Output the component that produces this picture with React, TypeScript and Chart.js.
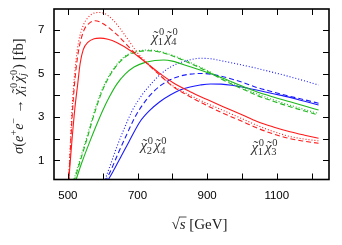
import React, { useEffect, useRef } from "react";
import { Chart, registerables } from "chart.js";

Chart.register(...registerables);

// ---- data: √s [GeV] and σ [fb] for each curve ----
// χ̃1χ̃3 (red)
const n13SolidS = [502, 506, 512, 520, 528, 535, 544, 558, 575, 592, 615, 640, 680, 720, 760, 800, 851, 900, 946, 1000, 1042, 1090, 1138, 1180, 1220];
const n13SolidSigma = [0, 0.8, 2.0, 3.4, 4.5, 5.45, 6.1, 6.45, 6.6, 6.63, 6.58, 6.43, 6.05, 5.56, 5.05, 4.6, 4.16, 3.8, 3.47, 3.1, 2.8, 2.54, 2.32, 2.16, 2.02];
const n13DashedS = [502, 506, 512, 520, 530, 545, 560, 578, 600, 640, 693, 721, 760, 800, 851, 900, 946, 1000, 1042, 1090, 1138, 1180, 1220];
const n13DashedSigma = [0, 1.2, 3.0, 4.7, 6.0, 6.95, 7.3, 7.43, 7.3, 6.8, 5.93, 5.55, 4.98, 4.42, 3.93, 3.52, 3.17, 2.8, 2.5, 2.22, 2.0, 1.88, 1.79];
const n13DottedS = [502, 506, 512, 520, 530, 545, 560, 575, 592, 610, 630, 660, 700, 730, 760, 800, 851, 900, 946, 1000, 1042, 1090, 1138, 1180, 1220];
const n13DottedSigma = [0, 1.4, 3.4, 5.1, 6.4, 7.25, 7.62, 7.78, 7.81, 7.72, 7.45, 6.85, 5.95, 5.45, 5.0, 4.45, 4.0, 3.62, 3.3, 2.92, 2.62, 2.33, 2.1, 1.98, 1.9];

// χ̃1χ̃4 (green)
const n14SolidS = [521, 540, 560, 580, 600, 620, 640, 665, 690, 720, 750, 775, 800, 851, 900, 946, 1000, 1042, 1090, 1138, 1180, 1220];
const n14SolidSigma = [0, 0.9, 1.75, 2.55, 3.3, 3.95, 4.5, 4.98, 5.3, 5.5, 5.6, 5.62, 5.57, 5.31, 5.05, 4.78, 4.42, 4.16, 3.92, 3.7, 3.5, 3.32];
const n14DashedS = [517, 535, 555, 575, 595, 610, 630, 650, 675, 700, 730, 760, 793, 851, 900, 946, 1000, 1042, 1090, 1138, 1180, 1220];
const n14DashedSigma = [0, 0.95, 2.0, 3.1, 4.05, 4.6, 5.15, 5.55, 5.87, 6.0, 6.05, 6.0, 5.85, 5.47, 5.1, 4.7, 4.3, 4.0, 3.72, 3.47, 3.27, 3.09];
const n14DottedS = [515, 533, 553, 573, 593, 608, 628, 648, 673, 700, 730, 760, 793, 851, 900, 946, 1000, 1042, 1090, 1138, 1180, 1220];
const n14DottedSigma = [0, 0.95, 2.0, 3.1, 4.05, 4.6, 5.15, 5.56, 5.89, 6.04, 6.08, 6.03, 5.88, 5.51, 5.14, 4.75, 4.36, 4.07, 3.79, 3.54, 3.34, 3.16];

// χ̃2χ̃4 (blue)
const n24SolidS = [612, 630, 650, 675, 707, 735, 764, 795, 822, 851, 880, 910, 940, 970, 1000, 1042, 1090, 1138, 1180, 1220];
const n24SolidSigma = [0, 0.5, 1.1, 1.85, 2.78, 3.3, 3.7, 4.02, 4.24, 4.38, 4.47, 4.52, 4.51, 4.46, 4.38, 4.24, 4.07, 3.9, 3.72, 3.55];
const n24DashedS = [607, 625, 645, 665, 688, 710, 735, 764, 795, 822, 851, 880, 910, 946, 1000, 1042, 1090, 1138, 1180, 1220];
const n24DashedSigma = [0, 0.6, 1.35, 2.05, 2.85, 3.45, 3.98, 4.42, 4.72, 4.88, 4.97, 5.0, 4.97, 4.85, 4.6, 4.36, 4.15, 3.95, 3.79, 3.63];
const n24DottedS = [604, 620, 640, 660, 685, 710, 736, 765, 795, 822, 851, 880, 910, 946, 980, 1042, 1090, 1138, 1180, 1220];
const n24DottedSigma = [0, 0.7, 1.6, 2.4, 3.3, 3.95, 4.47, 4.95, 5.3, 5.5, 5.63, 5.7, 5.68, 5.57, 5.46, 5.24, 5.05, 4.85, 4.66, 4.47];

// ---- axes ----
const xTickValues = [500, 600, 700, 800, 900, 1000, 1100, 1200];
const xTickLabels = [500, 700, 900, 1100];
const yTickValues = [1, 2, 3, 4, 5, 6, 7];
const yTickLabels = [1, 3, 5, 7];

const X_MIN = 460;
const X_MAX = 1250;
const Y_MIN = 0.12;
const Y_MAX = 7.97;

const RED = "#ff1a1a";
const GREEN = "#1cb81c";
const BLUE = "#1a1aff";
const DASH = [5, 3];
const DOT = [1, 2];

const curves = [
  { s: n13SolidS, v: n13SolidSigma, color: RED, dash: [] as number[] },
  { s: n13DashedS, v: n13DashedSigma, color: RED, dash: DASH },
  { s: n13DottedS, v: n13DottedSigma, color: RED, dash: DOT },
  { s: n14SolidS, v: n14SolidSigma, color: GREEN, dash: [] as number[] },
  { s: n14DashedS, v: n14DashedSigma, color: GREEN, dash: DASH },
  { s: n14DottedS, v: n14DottedSigma, color: GREEN, dash: DOT },
  { s: n24SolidS, v: n24SolidSigma, color: BLUE, dash: [] as number[] },
  { s: n24DashedS, v: n24DashedSigma, color: BLUE, dash: DASH },
  { s: n24DottedS, v: n24DottedSigma, color: BLUE, dash: DOT },
];

// ---- rich text helpers ----
type Part = { t?: string; italic?: boolean; scale?: number; dy?: number; sp?: number; chi?: boolean; sup?: string; sub?: string };

function serif(size: number, italic = false) {
  return `${italic ? "italic " : ""}${size}px "Liberation Serif", "DejaVu Serif", serif`;
}

function richText(ctx: CanvasRenderingContext2D, parts: Part[], x0: number, y0: number, size: number, draw: boolean): number {
  let x = x0;
  for (const p of parts) {
    if (p.sp !== undefined) {
      x += p.sp;
      continue;
    }
    if (p.chi) {
      ctx.font = serif(size, true);
      const w = ctx.measureText("χ").width;
      if (draw) ctx.fillText("χ", x, y0);
      ctx.font = serif(size, false);
      const tw = ctx.measureText("˜").width;
      if (draw) ctx.fillText("˜", x + w / 2 - tw / 2 + size * 0.08, y0 - size * 0.05);
      const ss = size * 0.7;
      ctx.font = serif(ss, false);
      const supW = ctx.measureText(p.sup || "").width;
      if (draw) ctx.fillText(p.sup || "", x + w + size * 0.05, y0 - size * 0.42);
      ctx.font = serif(ss, /[a-z]/.test(p.sub || ""));
      const subW = ctx.measureText(p.sub || "").width;
      if (draw) ctx.fillText(p.sub || "", x + w - size * 0.02, y0 + size * 0.24);
      x += w + size * 0.05 + Math.max(supW, subW) + size * 0.06;
      continue;
    }
    const s = size * (p.scale ?? 1);
    ctx.font = serif(s, !!p.italic);
    if (draw) ctx.fillText(p.t || "", x, y0 + (p.dy ?? 0) * size);
    x += ctx.measureText(p.t || "").width;
  }
  return x - x0;
}

function drawCentered(ctx: CanvasRenderingContext2D, parts: Part[], cx: number, baseline: number, size: number) {
  const w = richText(ctx, parts, 0, 0, size, false);
  richText(ctx, parts, cx - w / 2, baseline, size, true);
}

const yTitleParts: Part[] = [
  { t: "σ", italic: true },
  { t: "(" },
  { t: "e", italic: true },
  { t: "+", scale: 0.7, dy: -0.4 },
  { t: "e", italic: true },
  { t: "−", scale: 0.7, dy: -0.4 },
  { sp: 4 },
  { t: "→" },
  { sp: 4 },
  { chi: true, sup: "0", sub: "i" },
  { chi: true, sup: "0", sub: "j" },
  { t: ")" },
  { sp: 4 },
  { t: "[fb]" },
];

const labels = [
  { s: 779, v: 6.6, parts: [{ chi: true, sup: "0", sub: "1" }, { chi: true, sup: "0", sub: "4" }] as Part[] },
  { s: 747, v: 1.62, parts: [{ chi: true, sup: "0", sub: "2" }, { chi: true, sup: "0", sub: "4" }] as Part[] },
  { s: 1066, v: 1.53, parts: [{ chi: true, sup: "0", sub: "1" }, { chi: true, sup: "0", sub: "3" }] as Part[] },
];

const framePlugin = {
  id: "gnuframe",
  afterDatasetsDraw(chart: any) {
    const ctx: CanvasRenderingContext2D = chart.ctx;
    const { left, right, top, bottom } = chart.chartArea;
    const xs = chart.scales.x;
    const ys = chart.scales.y;
    ctx.save();
    ctx.strokeStyle = "#000";
    ctx.lineWidth = 1;
    ctx.beginPath();
    for (const v of xTickValues) {
      const px = Math.round(xs.getPixelForValue(v)) + 0.5;
      ctx.moveTo(px, bottom);
      ctx.lineTo(px, bottom - 6);
      ctx.moveTo(px, top);
      ctx.lineTo(px, top + 6);
    }
    for (const v of yTickValues) {
      const py = Math.round(ys.getPixelForValue(v)) + 0.5;
      ctx.moveTo(left, py);
      ctx.lineTo(left + 6, py);
      ctx.moveTo(right, py);
      ctx.lineTo(right - 6, py);
    }
    ctx.stroke();
    ctx.lineWidth = 1.6;
    ctx.strokeRect(left, top, right - left, bottom - top);

    // annotations
    ctx.fillStyle = "#333";
    ctx.textAlign = "left";
    ctx.textBaseline = "alphabetic";
    for (const l of labels) {
      const cx = xs.getPixelForValue(l.s);
      const cy = ys.getPixelForValue(l.v);
      drawCentered(ctx, l.parts, cx, cy + 3, 15);
    }

    // y title
    ctx.fillStyle = "#222";
    ctx.save();
    ctx.translate(23, (top + bottom) / 2 + 2);
    ctx.rotate(-Math.PI / 2);
    drawCentered(ctx, yTitleParts, 0, 0, 14.5);
    ctx.restore();

    // x title: √s [GeV]
    const size = 15;
    ctx.font = serif(size);
    const rw = ctx.measureText("√").width;
    ctx.font = serif(size, true);
    const sw = ctx.measureText("s").width;
    ctx.font = serif(size);
    const gw = ctx.measureText(" [GeV]").width;
    const total = rw + sw + gw;
    const cx = (left + right) / 2 + 8;
    const base = 229;
    const x0 = cx - total / 2;
    ctx.font = serif(size);
    ctx.fillText("√", x0, base);
    ctx.font = serif(size, true);
    ctx.fillText("s", x0 + rw, base);
    ctx.font = serif(size);
    ctx.fillText(" [GeV]", x0 + rw + sw, base);
    ctx.strokeStyle = "#222";
    ctx.lineWidth = 0.8;
    ctx.beginPath();
    ctx.moveTo(x0 + rw - 0.8, base - size * 0.8);
    ctx.lineTo(x0 + rw + sw + 1, base - size * 0.8);
    ctx.stroke();
    ctx.restore();
  },
};

export default function App() {
  const ref = useRef<HTMLCanvasElement | null>(null);
  useEffect(() => {
    if (!ref.current) return;
    const chart = new Chart(ref.current, {
      type: "line",
      data: {
        datasets: curves.map((c) => ({
          data: c.s.map((s, i) => ({ x: s, y: c.v[i] })),
          borderColor: c.color,
          borderWidth: 1.1,
          borderDash: c.dash,
          cubicInterpolationMode: "monotone" as const,
          pointRadius: 0,
          fill: false,
        })),
      },
      options: {
        responsive: false,
        maintainAspectRatio: false,
        animation: false,
        layout: { padding: { top: 9, right: 13, left: 0, bottom: 0 } },
        plugins: { legend: { display: false }, tooltip: { enabled: false } },
        scales: {
          x: {
            type: "linear",
            min: X_MIN,
            max: X_MAX,
            afterBuildTicks: (s: any) => {
              s.ticks = xTickValues.map((v) => ({ value: v }));
            },
            afterFit: (s: any) => {
              s.height = 65.5;
              s.paddingLeft = 0;
              s.paddingRight = 0;
            },
            ticks: {
              autoSkip: false,
              maxRotation: 0,
              minRotation: 0,
              padding: 9,
              color: "#000",
              font: { family: '"Liberation Sans", Arial, sans-serif', size: 11.5 },
              callback: (v: any) => (xTickLabels.includes(Number(v)) ? String(v) : ""),
            },
            grid: { display: false, drawTicks: false },
            border: { display: false },
          },
          y: {
            type: "linear",
            min: Y_MIN,
            max: Y_MAX,
            afterBuildTicks: (s: any) => {
              s.ticks = yTickValues.map((v) => ({ value: v }));
            },
            afterFit: (s: any) => {
              s.width = 54;
              s.paddingTop = 0;
              s.paddingBottom = 0;
            },
            ticks: {
              autoSkip: false,
              padding: 9.5,
              color: "#000",
              font: { family: '"Liberation Sans", Arial, sans-serif', size: 11.5 },
              callback: (v: any) => (yTickLabels.includes(Number(v)) ? String(v) : ""),
            },
            grid: { display: false, drawTicks: false },
            border: { display: false },
          },
        },
      },
      plugins: [framePlugin],
    });
    return () => chart.destroy();
  }, []);
  return (
    <div style={{ position: "fixed", left: 0, top: 0, width: 342, height: 245, background: "#fff" }}>
      <canvas ref={ref} width={342} height={245} style={{ display: "block" }} />
    </div>
  );
}
